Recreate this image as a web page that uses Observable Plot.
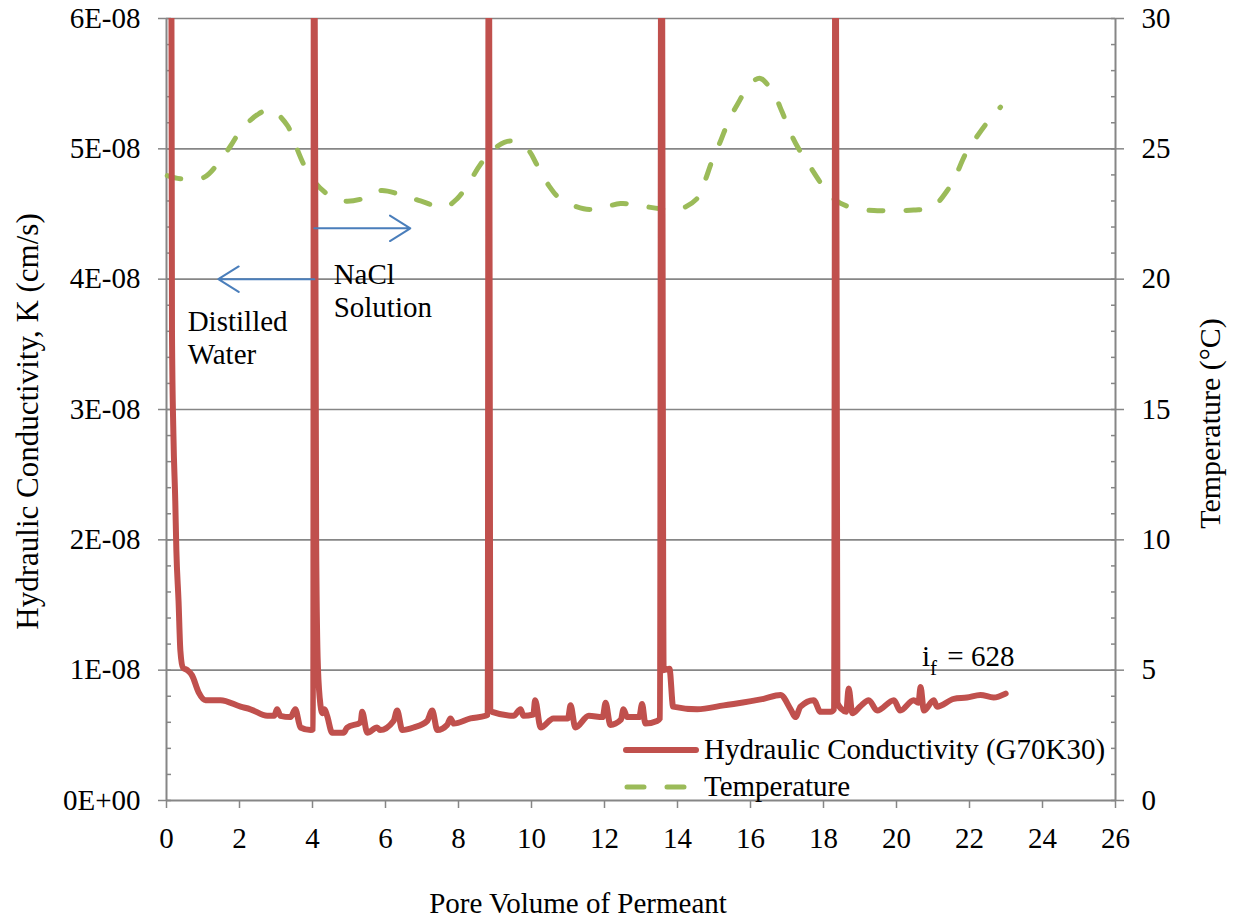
<!DOCTYPE html>
<html>
<head>
<meta charset="utf-8">
<script src="https://cdn.jsdelivr.net/npm/d3@7"></script>
<script src="https://cdn.jsdelivr.net/npm/@observablehq/plot@0.6"></script>
<style>
  body { margin: 0; background: #fff; }
  #chart { position: relative; width: 1233px; height: 919px; font-family: "Liberation Serif", "Times New Roman", serif; }
  .legend { position: absolute; left: 622px; top: 731px; font-size: 29px; color: #000; line-height: 1; }
  .legend .row { display: flex; align-items: center; height: 37px; }
  .legend svg { margin-right: 4px; flex: none; }
</style>
</head>
<body>
<div id="chart"></div>
<script>
// Hydraulic conductivity (×1E-08 cm/s) against pore volume of permeant
const poreVolumeK = [0.13, 0.15, 0.19, 0.24, 0.27, 0.33, 0.38, 0.45, 0.57, 0.70, 0.88, 1.07, 1.48, 2.03, 2.30, 2.76, 2.95, 3.03, 3.12, 3.40, 3.53, 3.67, 3.95, 4.02,
  4.04, 4.10, 4.14, 4.20, 4.27, 4.33, 4.40, 4.54, 4.85, 4.95, 5.32, 5.36, 5.50, 5.77, 5.85, 6.22, 6.32, 6.46, 6.77, 7.14, 7.28, 7.42, 7.69, 7.78, 7.87, 8.33, 8.74, 8.80,
  8.83, 8.87, 8.92, 9.51, 9.70, 9.78, 10.05, 10.10, 10.25, 10.60, 11.00, 11.07, 11.20, 11.57, 11.95, 12.03, 12.16, 12.45, 12.52, 12.62, 12.95, 13.03, 13.12, 13.44, 13.52,
  13.56, 13.62, 13.78, 13.88, 14.54, 15.27, 16.36, 16.82, 17.10, 17.23, 17.37, 17.73, 17.92, 18.20, 18.29,
  18.33, 18.38, 18.50, 18.62, 18.69, 18.79, 19.00, 19.24, 19.47, 19.93, 20.10, 20.47, 20.60, 20.66, 20.75, 21.02, 21.11, 21.57, 21.93, 22.30, 22.66, 22.99];
const conductivityE8 = [7.0, 3.6, 2.8, 2.3, 1.92, 1.53, 1.15, 1.02, 1.0, 0.96, 0.83, 0.77, 0.77, 0.72, 0.70, 0.65, 0.65, 0.70, 0.65, 0.64, 0.70, 0.56, 0.54, 0.55,
  8.0, 2.0, 1.1, 0.78, 0.67, 0.70, 0.65, 0.52, 0.52, 0.56, 0.60, 0.68, 0.52, 0.56, 0.54, 0.61, 0.69, 0.54, 0.56, 0.61, 0.69, 0.54, 0.58, 0.63, 0.59, 0.63, 0.65, 0.66,
  8.0, 0.70, 0.68, 0.65, 0.70, 0.65, 0.66, 0.77, 0.56, 0.63, 0.63, 0.73, 0.56, 0.65, 0.64, 0.75, 0.58, 0.62, 0.70, 0.64, 0.64, 0.74, 0.59, 0.61, 0.63,
  8.0, 1.0, 1.01, 0.72, 0.70, 0.73, 0.78, 0.81, 0.70, 0.64, 0.72, 0.77, 0.68, 0.68, 0.70,
  8.0, 0.75, 0.70, 0.68, 0.86, 0.67, 0.72, 0.77, 0.69, 0.77, 0.69, 0.77, 0.75, 0.87, 0.69, 0.77, 0.72, 0.78, 0.79, 0.81, 0.79, 0.82];

// Temperature (°C) against pore volume of permeant
const poreVolumeT = [0.02, 0.38, 1.02, 1.39, 1.75, 2.03, 2.48, 2.85, 3.31, 3.49, 3.76, 3.99, 4.40, 4.86, 5.41, 5.86, 6.50, 6.96, 7.60, 7.96, 8.33, 8.60, 8.97, 9.42,
  9.88, 10.16, 10.47, 10.79, 11.43, 11.80, 12.44, 12.90, 13.53, 14.08, 14.54, 14.72, 14.95, 15.18, 15.41, 15.64, 16.00, 16.27, 16.64, 16.87, 17.10, 17.32, 17.64,
  17.92, 18.28, 18.74, 19.38, 19.93, 20.47, 20.98, 21.39, 21.62, 21.89, 22.12, 22.48, 22.85];
const temperatureC = [23.97, 23.85, 23.9, 24.4, 25.1, 25.7, 26.3, 26.5, 25.9, 25.3, 24.4, 23.85, 23.27, 23.0, 23.1, 23.4, 23.2, 23.0, 22.76, 23.08, 23.8, 24.4, 25.0, 25.3,
  25.0, 24.36, 23.6, 23.08, 22.7, 22.7, 22.9, 22.84, 22.7, 22.7, 23.1, 23.65, 24.55, 25.3, 26.1, 26.7, 27.5, 27.7, 27.1, 26.4, 25.6, 25.0, 24.3,
  23.7, 23.08, 22.76, 22.63, 22.63, 22.65, 22.76, 23.4, 23.97, 24.8, 25.3, 26.0, 26.6];

// Axis ticks and labels
const xTicks = [0, 2, 4, 6, 8, 10, 12, 14, 16, 18, 20, 22, 24, 26];
const kTicksE8 = [0, 1, 2, 3, 4, 5, 6];
const kTickLabels = ["0E+00", "1E-08", "2E-08", "3E-08", "4E-08", "5E-08", "6E-08"];
const tTicks = [0, 5, 10, 15, 20, 25, 30];

// Annotations: permeant change arrows (x in pore volumes, y ×1E-08 cm/s)
const arrowX1 = [4.05, 4.05];
const arrowX2 = [6.68, 1.42];
const arrowYE8 = [4.39, 4.0];
const noteText = ["NaCl\nSolution", "Distilled\nWater"];
const noteX = [4.58, 0.58];
const noteYE8 = [3.92, 3.56];
const gradientLabel = "if = 628";

const K_UNIT = 1e-8;
const T_TO_K = 6e-8 / 30;  // secondary axis: 0–30 °C spans 0–6E-08 cm/s

const kData = poreVolumeK.map((x, i) => ({x, y: conductivityE8[i] * K_UNIT}));
const tData = poreVolumeT.map((x, i) => ({x, y: temperatureC[i] * T_TO_K}));
const arrows = arrowX1.map((x1, i) => ({x1, x2: arrowX2[i], y: arrowYE8[i] * K_UNIT}));
const notes = noteText.map((text, i) => ({text, x: noteX[i], y: noteYE8[i] * K_UNIT}));
const kLabelOf = new Map(kTicksE8.map((v, i) => [v, kTickLabels[i]]));

const gridColor = "#868686";
const red = "#C0504D", green = "#9BBB59", blue = "#4A7EBB";
const FS = 29;

const chart = Plot.plot({
  width: 1233,
  height: 919,
  marginTop: 18,
  marginRight: 118,
  marginBottom: 119,
  marginLeft: 166,
  style: {fontFamily: '"Liberation Serif", "Times New Roman", serif', fontSize: FS + "px", color: "#000", background: "#fff", overflow: "visible"},
  x: {domain: [0, 26]},
  y: {domain: [0, 6e-8]},
  marks: [
    // horizontal gridlines
    Plot.ruleY(kTicksE8.slice(1).map(v => v * K_UNIT), {stroke: gridColor, strokeWidth: 1.6}),
    // axis lines
    Plot.ruleX([0, 26], {stroke: gridColor, strokeWidth: 2}),
    Plot.ruleY([0], {stroke: gridColor, strokeWidth: 2}),
    // left axis: minor ticks inside, major ticks and labels outside
    Plot.axisY(d3.range(0, 31).map(v => v * 0.2 * K_UNIT), {anchor: "left", tickSize: -5, tickFormat: () => "", stroke: gridColor, strokeWidth: 1.5, label: null}),
    Plot.axisY(kTicksE8.map(v => v * K_UNIT), {anchor: "left", tickSize: 8, tickPadding: 18, stroke: gridColor, strokeWidth: 1.5, fill: "#000", fontSize: FS,
      tickFormat: d => kLabelOf.get(Math.round(d / K_UNIT)), label: null}),
    // right axis (temperature): minor ticks inside, major ticks and labels outside
    Plot.axisY(d3.range(0, 31).map(t => t * T_TO_K), {anchor: "right", tickSize: -5, tickFormat: () => "", stroke: gridColor, strokeWidth: 1.5, label: null}),
    Plot.axisY(tTicks.map(t => t * T_TO_K), {anchor: "right", tickSize: 8, tickPadding: 18, stroke: gridColor, strokeWidth: 1.5, fill: "#000", fontSize: FS,
      tickFormat: d => String(Math.round(d / T_TO_K)), label: null}),
    // bottom axis
    Plot.axisX(xTicks, {anchor: "bottom", tickSize: 8, tickPadding: 19, stroke: gridColor, strokeWidth: 1.5, fill: "#000", fontSize: FS, label: null}),
    // temperature series
    Plot.line(tData, {x: "x", y: "y", stroke: green, strokeWidth: 5, strokeDasharray: "14,23", strokeLinecap: "round", curve: "catmull-rom"}),
    // hydraulic conductivity series
    Plot.line(kData, {x: "x", y: "y", stroke: red, strokeWidth: 6, strokeLinejoin: "round", curve: "monotone-x", clip: true}),
    // permeant change arrows and notes
    Plot.arrow(arrows, {x1: "x1", x2: "x2", y1: "y", y2: "y", stroke: blue, strokeWidth: 2, headLength: 18, headAngle: 64}),
    Plot.text(notes, {x: "x", y: "y", text: "text", textAnchor: "start", lineHeight: 1.15, fontSize: FS, fill: "#000"}),
    Plot.text([gradientLabel], {x: [20.7], y: [1.1e-8], text: d => d, textAnchor: "start", fontSize: FS, fill: "#000"}),
    // axis titles
    Plot.text(["Hydraulic Conductivity, K (cm/s)"], {frameAnchor: "left", textAnchor: "middle", lineAnchor: "middle", dx: -138, dy: 12, rotate: -90, fontSize: 31, fill: "#000"}),
    Plot.text(["Temperature (\u00B0C)"], {frameAnchor: "right", textAnchor: "middle", lineAnchor: "middle", dx: 95, dy: 14, rotate: -90, fontSize: 30, fill: "#000"}),
    Plot.text(["Pore Volume of Permeant"], {frameAnchor: "bottom", textAnchor: "middle", lineAnchor: "middle", dx: -63, dy: 103, fontSize: FS, fill: "#000"})
  ]
});

// subscript "f" in the gradient label
d3.select(chart).selectAll("text").filter(function () { return this.textContent === gradientLabel; }).each(function () {
  const t = d3.select(this);
  t.text(null);
  t.append("tspan").text("i");
  t.append("tspan").attr("dy", 9).attr("font-size", 21).text("f");
  t.append("tspan").attr("dy", -9).attr("dx", 3).text(" = 628");
});

const root = document.getElementById("chart");
root.appendChild(chart);

// legend inside the plot area
const legend = document.createElement("div");
legend.className = "legend";
legend.innerHTML = `
  <div class="row"><svg width="78" height="10"><line x1="4" y1="5" x2="74" y2="5" stroke="${red}" stroke-width="6" stroke-linecap="round"/></svg>Hydraulic Conductivity (G70K30)</div>
  <div class="row"><svg width="78" height="10"><line x1="5" y1="5" x2="74" y2="5" stroke="${green}" stroke-width="5" stroke-linecap="round" stroke-dasharray="17,23"/></svg>Temperature</div>`;
root.appendChild(legend);
</script>
</body>
</html>
